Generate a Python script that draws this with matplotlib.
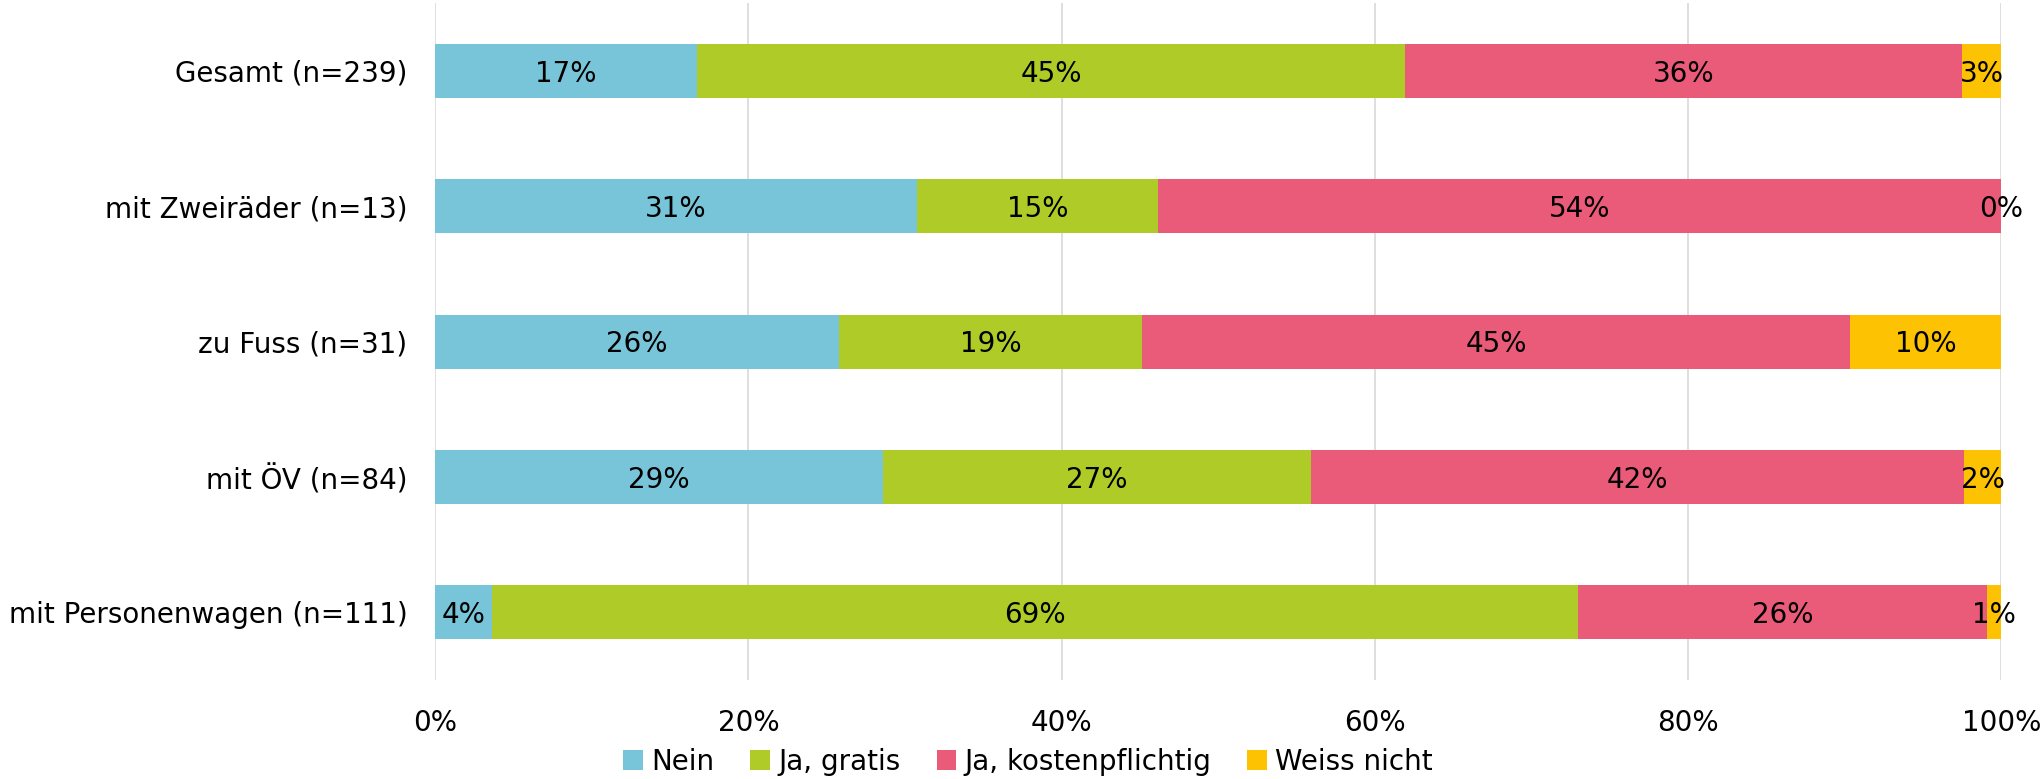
import numpy as np
import matplotlib.pyplot as plt

# Antworten je Verkehrsmittel (Anzahl Personen)
categories = ["Gesamt (n=239)", "mit Zweiräder (n=13)", "zu Fuss (n=31)",
              "mit ÖV (n=84)", "mit Personenwagen (n=111)"]
series = ["Nein", "Ja, gratis", "Ja, kostenpflichtig", "Weiss nicht"]
nein = [40, 4, 8, 24, 4]
ja_gratis = [108, 2, 6, 23, 77]
ja_kosten = [85, 7, 14, 35, 29]
weiss_nicht = [6, 0, 3, 2, 1]
colors = ["#78C5D9", "#AECB28", "#EA5B79", "#FDC201"]

counts = np.array([nein, ja_gratis, ja_kosten, weiss_nicht], dtype=float)
shares = counts / counts.sum(axis=0) * 100

plt.rcParams["font.family"] = "DejaVu Sans"
fig = plt.figure(figsize=(20.44, 7.79), dpi=100)
ax = fig.add_axes([0.2129, 0.127, 0.7662, 0.869])

y = np.arange(len(categories))
left = np.zeros(len(categories))
for vals, name, col in zip(shares, series, colors):
    bars = ax.barh(y, vals, left=left, height=0.4, color=col, label=name, linewidth=0)
    for b, v in zip(bars, vals):
        ax.text(b.get_x() + b.get_width() / 2, b.get_y() + b.get_height() / 2 + 0.02,
                f"{v:.0f}%", ha="center", va="center", fontsize=20, color="black")
    left += vals

ax.set_xlim(0, 100)
ax.set_ylim(len(categories) - 0.5, -0.5)
ax.set_yticks(y)
ax.set_yticklabels(categories, fontsize=20)
ax.set_xticks(np.arange(0, 101, 20))
ax.set_xticklabels([f"{t}%" for t in range(0, 101, 20)], fontsize=20)
ax.tick_params(axis="both", length=0)
ax.tick_params(axis="x", pad=21)
ax.tick_params(axis="y", pad=20)
ax.grid(axis="x", color="#D9D9D9", linewidth=1.2)
ax.set_axisbelow(True)
for s in ax.spines.values():
    s.set_visible(False)

fig.legend(loc="lower center", bbox_to_anchor=(0.503, -0.028), ncol=4, frameon=False,
           fontsize=20, handlelength=0.7, handleheight=0.7, handletextpad=0.3,
           columnspacing=1.3)

fig.savefig("out.png", dpi=100)
